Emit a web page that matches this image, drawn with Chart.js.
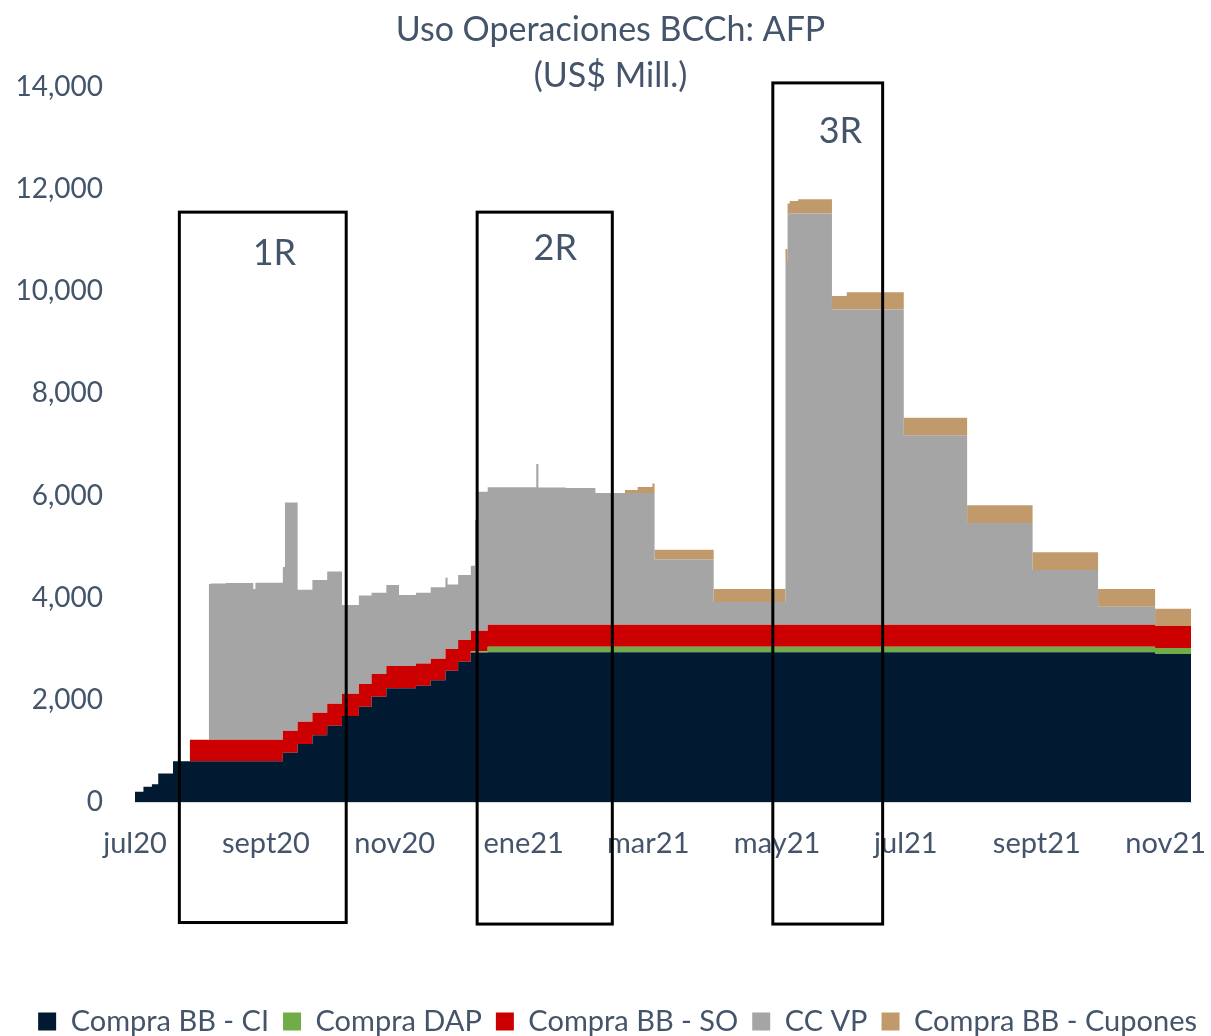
<!DOCTYPE html>
<html>
<head>
<meta charset="utf-8">
<script src="https://cdn.jsdelivr.net/npm/chart.js@4.4.1/dist/chart.umd.min.js"></script>
<style>
  html, body { margin: 0; padding: 0; background: #fff; }
</style>
</head>
<body>
<canvas id="afp" width="1211" height="1036"></canvas>
<script>
// fecha de inicio de cada escalon (el valor se mantiene hasta la fecha siguiente)
const fechas = [
  '2020-07-01','2020-07-05','2020-07-09','2020-07-12','2020-07-19','2020-07-27','2020-08-05','2020-08-06','2020-08-13','2020-08-26',
  '2020-08-27','2020-09-09','2020-09-10','2020-09-16','2020-09-23','2020-09-30','2020-10-07','2020-10-15','2020-10-21','2020-10-28',
  '2020-11-03','2020-11-11','2020-11-18','2020-11-25','2020-11-26','2020-12-01','2020-12-07','2020-12-09','2020-12-10','2020-12-15',
  '2021-01-07','2021-01-08','2021-01-21','2021-02-04','2021-02-18','2021-02-24','2021-03-03','2021-03-04','2021-04-01','2021-05-05',
  '2021-05-06','2021-05-07','2021-05-11','2021-05-27','2021-06-03','2021-06-30','2021-07-30','2021-08-30','2021-09-30','2021-10-27'
];
const fechaFin = '2021-11-13';

const compraCI = [
  200, 300, 350, 560, 800, 800, 800, 800, 800, 800,
  800, 965, 965, 1135, 1305, 1495, 1685, 1865, 2060, 2225,
  2225, 2275, 2385, 2570, 2570, 2745, 2925, 2925, 2925, 2930,
  2930, 2930, 2930, 2930, 2930, 2930, 2930, 2930, 2930, 2930,
  2930, 2930, 2930, 2930, 2930, 2930, 2930, 2930, 2930, 2900
];
const compraDAP = [
  0, 0, 0, 0, 0, 0, 0, 0, 0, 0,
  0, 0, 0, 0, 0, 0, 0, 0, 0, 0,
  0, 0, 0, 0, 0, 0, 25, 25, 25, 110,
  110, 110, 110, 110, 110, 110, 110, 110, 110, 110,
  110, 110, 110, 110, 110, 110, 110, 110, 110, 115
];
const compraSO = [
  0, 0, 0, 0, 0, 420, 420, 420, 420, 420,
  420, 430, 430, 435, 445, 430, 435, 445, 445, 440,
  440, 435, 420, 425, 425, 425, 405, 405, 405, 430,
  430, 430, 430, 430, 430, 430, 430, 430, 430, 430,
  430, 430, 430, 430, 430, 430, 430, 430, 430, 430
];
const ccVP = [
  0, 0, 0, 0, 0, 0, 3050, 3060, 3070, 2950,
  3075, 3205, 4470, 2585, 2595, 2590, 1735, 1735, 1590, 1585,
  1390, 1385, 1400, 1395, 1265, 1275, 1270, 2170, 2720, 2695,
  3150, 2690, 2680, 2580, 2580, 2580, 2580, 1280, 445, 7125,
  8035, 8055, 8055, 6175, 6175, 3710, 1995, 1075, 355, 0
];
const cupones = [
  0, 0, 0, 0, 0, 0, 0, 0, 0, 0,
  0, 0, 0, 0, 0, 0, 0, 0, 0, 0,
  0, 0, 0, 0, 0, 0, 0, 0, 0, 0,
  0, 0, 0, 0, 60, 120, 185, 190, 255, 235,
  215, 245, 275, 265, 335, 345, 345, 345, 345, 340
];

const mesesX = ['2020-07-01','2020-09-01','2020-11-01','2021-01-01','2021-03-01','2021-05-01','2021-07-01','2021-09-01','2021-11-01'];
const etiquetasX = ['jul20','sept20','nov20','ene21','mar21','may21','jul21','sept21','nov21'];

// recuadros de las rondas
const rondas = ['1R', '2R', '3R'];
const rondaDesde = ['2020-07-22', '2020-12-10', '2021-04-29'];
const rondaHasta = ['2020-10-09', '2021-02-12', '2021-06-20'];
const rondaTecho = [11550, 11550, 14080];
const rondaPiso = [-2360, -2390, -2390];
const rondaTextoFecha = ['2020-09-05', '2021-01-16', '2021-05-31'];
const rondaTextoValor = [10515, 10613, 12904];

const TEXTO = '#44546a';
const FUENTE = 'Lato';

const dia = s => (Date.UTC(+s.slice(0, 4), +s.slice(5, 7) - 1, +s.slice(8, 10)) - Date.UTC(2020, 6, 1)) / 864e5;

function serie(label, valores, color, fill) {
  const data = fechas.map((f, i) => ({ x: dia(f), y: valores[i] }));
  data.push({ x: dia(fechaFin), y: valores[valores.length - 1] });
  return {
    label: label,
    data: data,
    fill: fill,
    stepped: true,
    backgroundColor: color,
    borderColor: 'rgba(0,0,0,0)',
    borderWidth: 0,
    pointRadius: 0
  };
}

const extras = {
  id: 'extras',
  afterDraw(chart) {
    const { ctx, scales: { x, y } } = chart;
    ctx.save();
    // titulo
    ctx.fillStyle = TEXTO;
    ctx.textAlign = 'center';
    ctx.textBaseline = 'alphabetic';
    ctx.font = '34px ' + FUENTE;
    ctx.fillText('Uso Operaciones BCCh: AFP', chart.width / 2 + 5, 41);
    ctx.fillText('(US$ Mill.)', chart.width / 2 + 5, 87);
    // recuadros
    ctx.strokeStyle = '#000';
    ctx.lineWidth = 3;
    ctx.font = '36px ' + FUENTE;
    rondas.forEach((r, i) => {
      const x0 = x.getPixelForValue(dia(rondaDesde[i]));
      const x1 = x.getPixelForValue(dia(rondaHasta[i]));
      const y0 = y.getPixelForValue(rondaTecho[i]);
      const y1 = y.getPixelForValue(rondaPiso[i]);
      ctx.strokeRect(x0, y0, x1 - x0, y1 - y0);
      ctx.fillText(r, x.getPixelForValue(dia(rondaTextoFecha[i])), y.getPixelForValue(rondaTextoValor[i]));
    });
    ctx.restore();
  }
};

new Chart(document.getElementById('afp'), {
  type: 'line',
  data: {
    datasets: [
      serie('Compra BB - CI', compraCI, '#011a31', 'origin'),
      serie('Compra DAP', compraDAP, '#70ad47', '-1'),
      serie('Compra BB - SO', compraSO, '#cc0000', '-1'),
      serie('CC VP', ccVP, '#a5a5a5', '-1'),
      serie('Compra BB - Cupones', cupones, '#c19a6b', '-1')
    ]
  },
  options: {
    responsive: false,
    animation: false,
    layout: { padding: { top: 87, right: 0, bottom: -10, left: 0 } },
    plugins: {
      legend: {
        position: 'bottom',
        align: 'end',
        labels: {
          boxWidth: 18,
          boxHeight: 18,
          padding: 14,
          color: TEXTO,
          font: { family: FUENTE, size: 29 }
        }
      },
      tooltip: { enabled: false }
    },
    scales: {
      x: {
        type: 'linear',
        min: 0,
        max: dia(fechaFin),
        afterBuildTicks: s => { s.ticks = mesesX.map(m => ({ value: dia(m) })); },
        afterFit: s => { s.height = 191; s.paddingRight = 20; },
        grid: { display: false, drawTicks: false },
        border: { display: true, color: '#d9d9d9' },
        ticks: {
          autoSkip: false,
          maxRotation: 0,
          padding: 24,
          color: TEXTO,
          font: { family: FUENTE, size: 29 },
          callback: (v, i) => etiquetasX[i]
        }
      },
      y: {
        stacked: true,
        min: 0,
        max: 14000,
        afterFit: s => { s.width = 135; },
        grid: { display: false, drawTicks: false },
        border: { display: false },
        ticks: {
          stepSize: 2000,
          padding: 32,
          color: TEXTO,
          font: { family: FUENTE, size: 28 },
          callback: v => v.toLocaleString('en-US')
        }
      }
    }
  },
  plugins: [extras]
});
</script>
</body>
</html>
